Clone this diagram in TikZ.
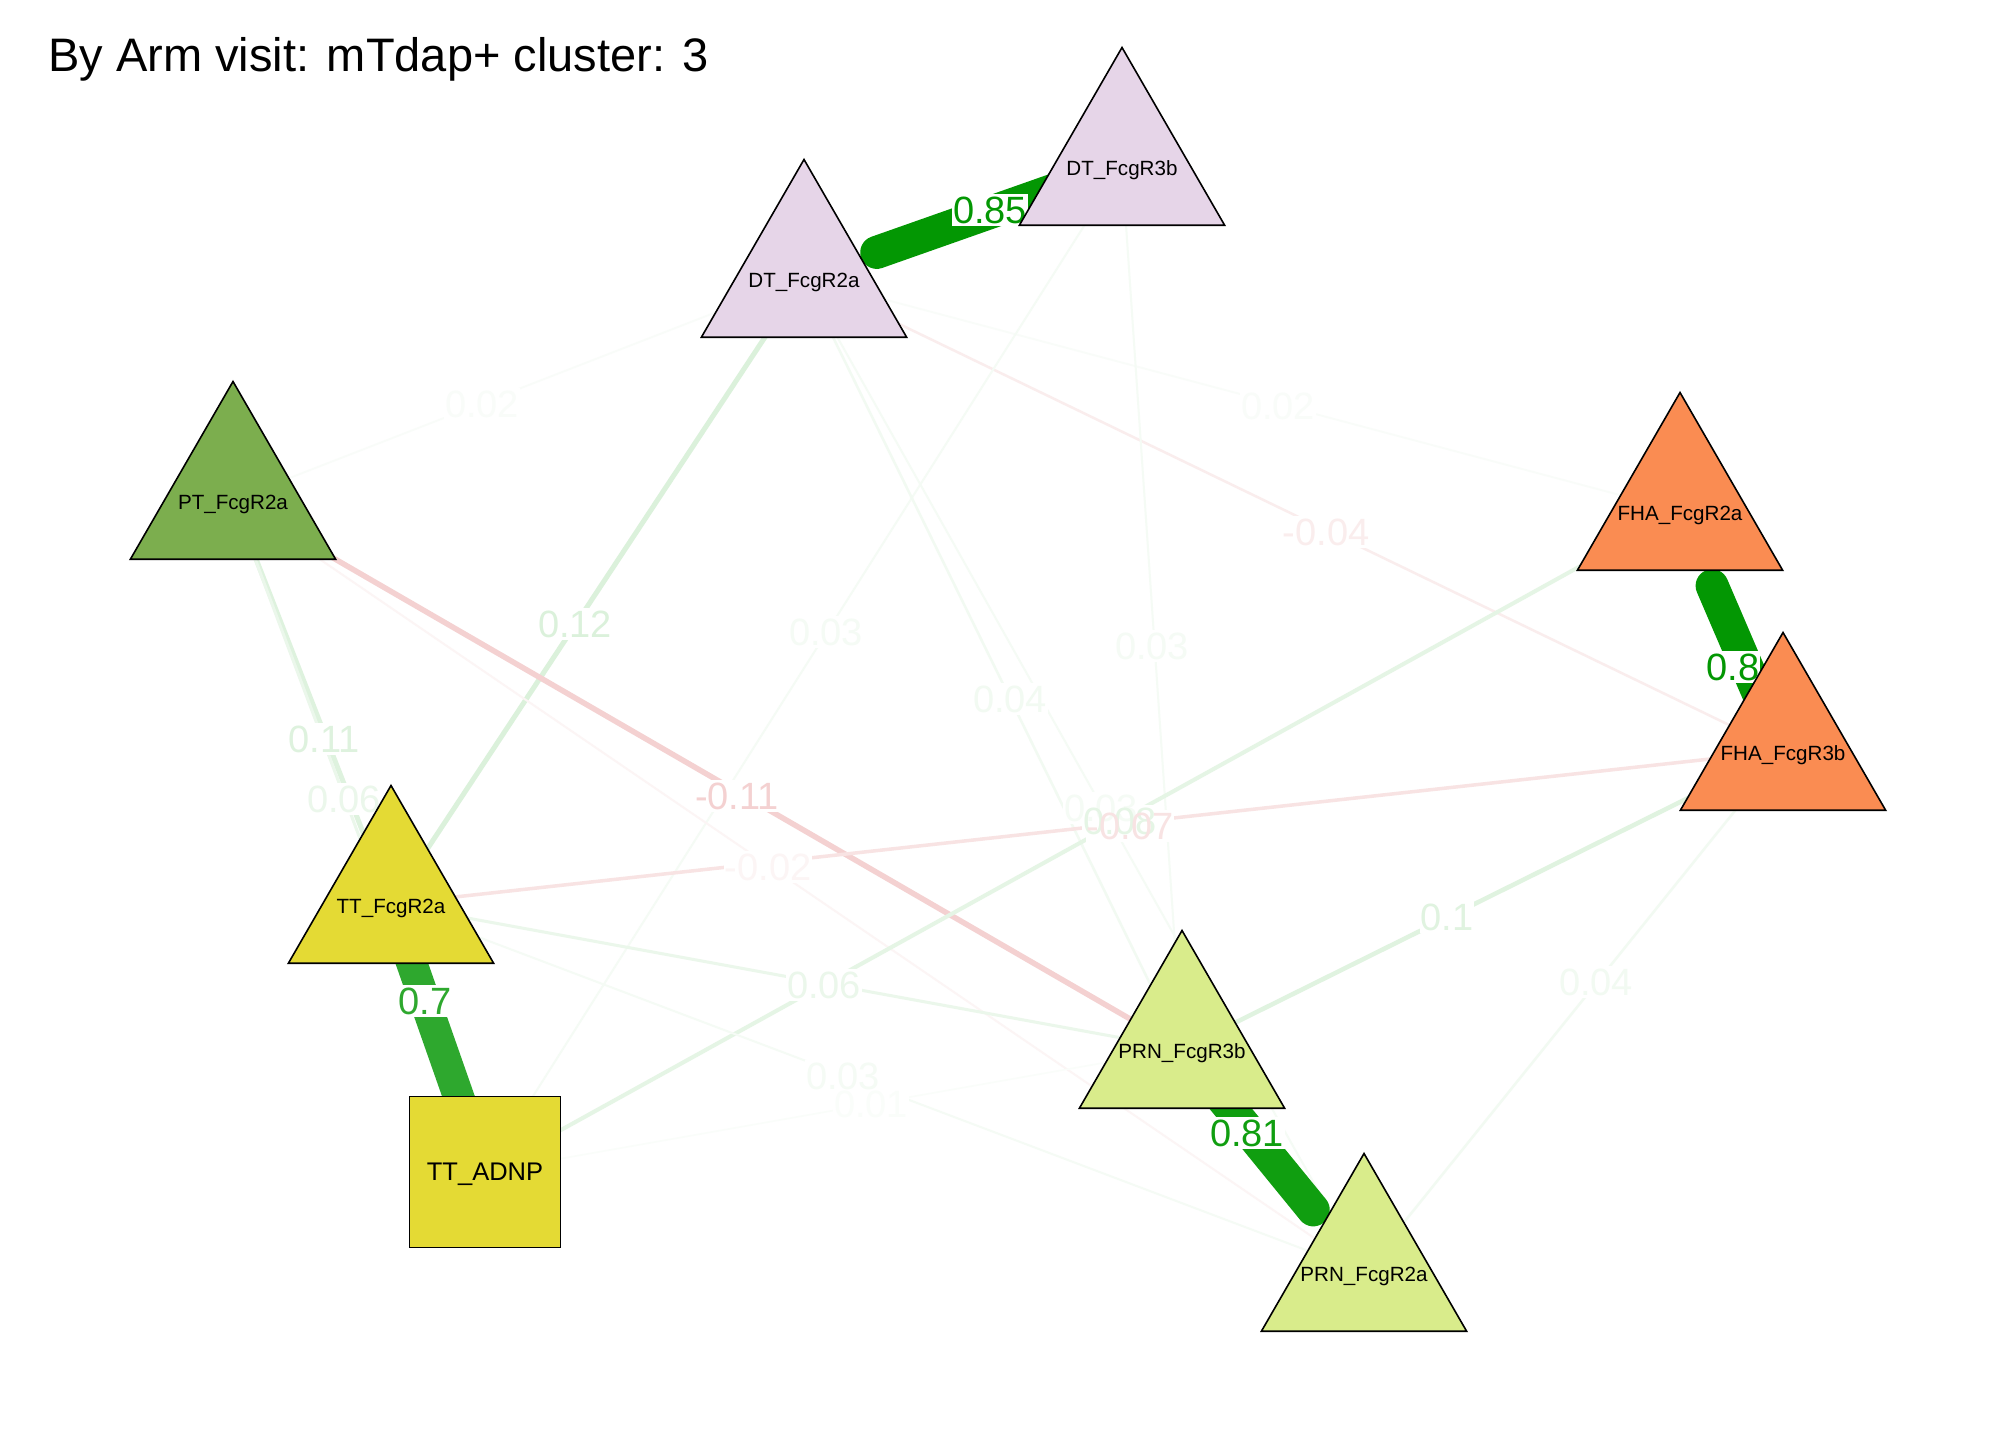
\documentclass[tikz,border=0pt]{standalone}
\usepackage{fontspec}
\setmainfont{Liberation Sans}
\usetikzlibrary{shapes.geometric}
\pgfdeclarelayer{bg}
\pgfdeclarelayer{edges}
\pgfdeclarelayer{labbg}
\pgfdeclarelayer{labtx}
\pgfsetlayers{bg,edges,labbg,labtx,main}
\definecolor{posc}{RGB}{0,153,0}
\definecolor{negc}{RGB}{191,0,0}
\definecolor{g85}{RGB}{3,151,3}
\definecolor{g80}{RGB}{3,151,3}
\definecolor{g81}{RGB}{16,158,16}
\definecolor{g70}{RGB}{46,168,46}
\definecolor{cDT}{RGB}{230,213,232}
\definecolor{cPT}{RGB}{124,174,78}
\definecolor{cFHA}{RGB}{250,140,82}
\definecolor{cTT}{RGB}{228,218,52}
\definecolor{cPRN}{RGB}{217,236,139}
\tikzset{
  tri/.style={regular polygon, regular polygon sides=3, minimum size=118.5pt,
    inner sep=0pt, draw=black, line width=0.8pt},
  sq/.style={rectangle, minimum size=75.5pt, inner sep=0pt, draw=black, line width=0.8pt},
  nlab/.style={font=\fontsize{10.3}{12}\selectfont, text=black, yshift=-2pt},
  edge/.style={line cap=round},
  elabbg/.style={fill=white, text opacity=0, inner xsep=0.5pt, inner ysep=1.5pt,
    font=\fontsize{19}{21}\selectfont},
  elabtx/.style={inner xsep=0.5pt, inner ysep=1.5pt, font=\fontsize{19}{21}\selectfont},
}
\newcommand{\elab}[4]{%
  \begin{pgfonlayer}{labbg}\node[elabbg] (#1bg) at (#2) {#4};\end{pgfonlayer}%
  \begin{pgfonlayer}{labtx}\node[elabtx, text=#3] (#1) at (#2) {#4};\end{pgfonlayer}}
\begin{document}
\begin{tikzpicture}[x=0.5pt, y=-0.5pt]
\begin{pgfonlayer}{bg}
  \fill[white] (0,0) rectangle (2016,1440);
\end{pgfonlayer}
\useasboundingbox (0,0) rectangle (2016,1440);

% title
\node[anchor=base west, inner sep=0pt, font=\fontsize{23.5}{28}\selectfont] (title) at (48,71)
  {By Arm visit: mTdap+ cluster: 3};

% nodes
\node[tri, fill=cDT, label={[nlab]center:DT\_FcgR3b}] (dt3b) at (1122,166) {};
\node[tri, fill=cDT, label={[nlab]center:DT\_FcgR2a}] (dt2a) at (804,278) {};
\node[tri, fill=cPT, label={[nlab]center:PT\_FcgR2a}] (pt) at (233,500) {};
\node[tri, fill=cFHA, label={[nlab]center:FHA\_FcgR2a}] (fha2a) at (1680,511) {};
\node[tri, fill=cFHA, label={[nlab]center:FHA\_FcgR3b}] (fha3b) at (1783,751) {};
\node[tri, fill=cTT, label={[nlab]center:TT\_FcgR2a}] (tt2a) at (391,904) {};
\node[sq, fill=cTT, label={[font=\fontsize{12.75}{14}\selectfont, yshift=-1pt]center:TT\_ADNP}] (adnp) at (485,1172) {};
\node[tri, fill=cPRN, label={[nlab]center:PRN\_FcgR3b}] (prn3b) at (1182,1049) {};
\node[tri, fill=cPRN, label={[nlab]center:PRN\_FcgR2a}] (prn2a) at (1364,1272) {};

% edges
\begin{pgfonlayer}{edges}
  \draw[edge, posc!14!white, line width=2.5pt] (dt2a.center) -- (tt2a.center);
  \draw[edge, posc!13!white, line width=2.5pt] (pt.center) -- (tt2a.center);
  \draw[edge, posc!8!white, line width=1.5pt] (pt.center) -- (adnp.center);
  \draw[edge, posc!2.5!white, line width=0.9pt] (pt.center) -- (dt2a.center);
  \draw[edge, posc!2.5!white, line width=0.9pt] (dt2a.center) -- (fha2a.center);
  \draw[edge, negc!7!white, line width=1.25pt] (dt2a.center) -- (fha3b.center);
  \draw[edge, posc!4!white, line width=1pt] (dt3b.center) -- (adnp.center);
  \draw[edge, posc!5!white, line width=1.25pt] (dt2a.center) -- (prn3b.center);
  \draw[edge, posc!4!white, line width=1pt] (dt3b.center) -- (prn3b.center);
  \draw[edge, negc!18!white, line width=2.75pt] (pt.center) -- (prn3b.center);
  \draw[edge, negc!4!white, line width=1pt] (pt.center) -- (prn2a.center);
  \draw[edge, negc!11!white, line width=1.75pt] (tt2a.center) -- (fha3b.center);
  \draw[edge, posc!4!white, line width=1pt] (dt2a.center) -- (prn2a.center);
  \draw[edge, posc!10!white, line width=2pt] (fha2a.center) -- (adnp.center);
  \draw[edge, posc!8!white, line width=1.5pt] (tt2a.center) -- (prn3b.center);
  \draw[edge, posc!4!white, line width=1pt] (tt2a.center) -- (prn2a.center);
  \draw[edge, posc!2!white, line width=0.75pt] (adnp.center) -- (prn3b.center);
  \draw[edge, posc!12!white, line width=2.25pt] (prn3b.center) -- (fha3b.center);
  \draw[edge, posc!5!white, line width=1.25pt] (prn2a.center) -- (fha3b.center);
  % strong edges
  \draw[edge, g85, line width=16.5pt, shorten <=8pt] (dt2a) -- (dt3b.center);
  \draw[edge, g80, line width=16.5pt, shorten <=8pt] (fha2a) -- (fha3b.center);
  \draw[edge, g70, line width=15.5pt] (tt2a.center) -- (adnp.center);
  \draw[edge, g81, line width=16.5pt, shorten >=8pt] (prn3b.center) -- (prn2a);
\end{pgfonlayer}

% edge labels
\elab{l85}{990,210}{g85}{0.85}
\elab{l80}{1733,667}{g80}{0.8}
\elab{l70}{425,1001}{g70}{0.7}
\elab{l81}{1247,1133}{g81}{0.81}
\elab{l12}{575,624}{posc!14!white}{0.12}
\elab{l11}{324,739}{posc!13!white}{0.11}
\elab{l06a}{344,799}{posc!8!white}{0.06}
\elab{l02a}{482,404}{posc!2.5!white}{0.02}
\elab{l02b}{1278,406}{posc!2.5!white}{0.02}
\elab{l04n}{1326,532}{negc!7!white}{-0.04}
\elab{l03a}{826,632}{posc!4!white}{0.03}
\elab{l04a}{1010,699}{posc!5!white}{0.04}
\elab{l03b}{1152,646}{posc!4!white}{0.03}
\elab{l11n}{737,796}{negc!18!white}{-0.11}
\elab{l02n}{768,867}{negc!4!white}{-0.02}
\elab{l03c}{1101,808}{posc!4!white}{0.03}
\elab{l08}{1120,821}{posc!10!white}{0.08}
\elab{l07n}{1130,826}{negc!11!white}{-0.07}
\elab{l06b}{824,985}{posc!8!white}{0.06}
\elab{l03d}{843,1076}{posc!4!white}{0.03}
\elab{l01}{871,1104}{posc!2!white}{0.01}
\elab{l10}{1447,917}{posc!12!white}{0.1}
\elab{l04b}{1596,982}{posc!5!white}{0.04}
\end{tikzpicture}
\end{document}
